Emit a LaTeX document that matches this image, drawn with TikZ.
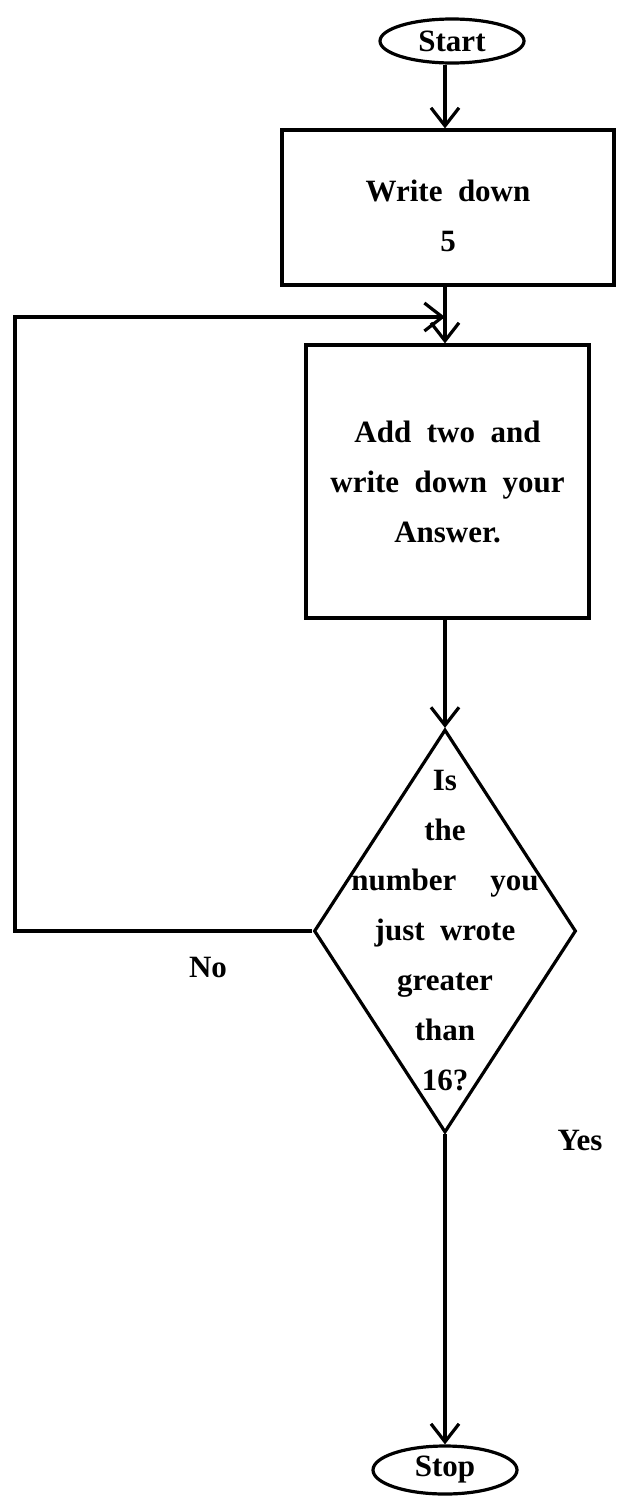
\documentclass[tikz,border=0pt]{standalone}
\usepackage{fontspec}
\setmainfont{Liberation Serif}
\usetikzlibrary{shapes.geometric,arrows.meta}
\newcommand\flowfont{\fontsize{31}{50}\selectfont\bfseries\spaceskip=0.5em\relax}
\begin{document}
\begin{tikzpicture}[x=1pt,y=-1pt,
  txt/.style={font=\flowfont},
  arr/.style={line width=3.2pt,-{Straight Barb[length=18pt,width=28pt]}},
  term/.style={txt,ellipse,draw,line width=3.2pt,minimum width=144pt,minimum height=44pt,inner sep=0pt},
  proc/.style={txt,rectangle,draw,line width=3.2pt,align=center,inner sep=0pt},
  dec/.style={diamond,draw,line width=3.2pt,minimum width=262pt,minimum height=403pt,inner sep=0pt}]
\useasboundingbox (0,0) rectangle (616,1497);
\coordinate (ax) at (445,0);
\node[term] (start) at (452,41) {Start};
\node[proc,minimum width=332pt,minimum height=155pt] (box1) at (448,207.5) {};
\node[txt,align=center] (t1) at ([yshift=-8pt]box1.center) {Write down\\5};
\node[proc,minimum width=283pt,minimum height=273pt] (box2) at (447.5,481.5) {Add two and\\write down your\\Answer.};
\node[dec] (dec) at (445,931) {};
\node[txt,align=center] (q) at (dec.center) {Is\\the\\number\hspace{1.1em}you\\just wrote\\greater\\than\\16?};
\node[term,minimum height=48pt] (stop) at (445,1470) {Stop};
\node[txt] (no) at (208,967) {No};
\node[txt] (yes) at (580,1140) {Yes};
\coordinate (loopC) at (15,317);
\draw[arr] (start.south -| ax) -- (box1.north -| ax);
\draw[arr] (box1.south -| ax) -- (box2.north -| ax);
\draw[arr] (box2.south -| ax) -- (dec.north);
\draw[arr] (dec.south) -- (stop.north);
\draw[arr] (dec.west) -| (loopC) -- (loopC -| ax);
\end{tikzpicture}
\end{document}
